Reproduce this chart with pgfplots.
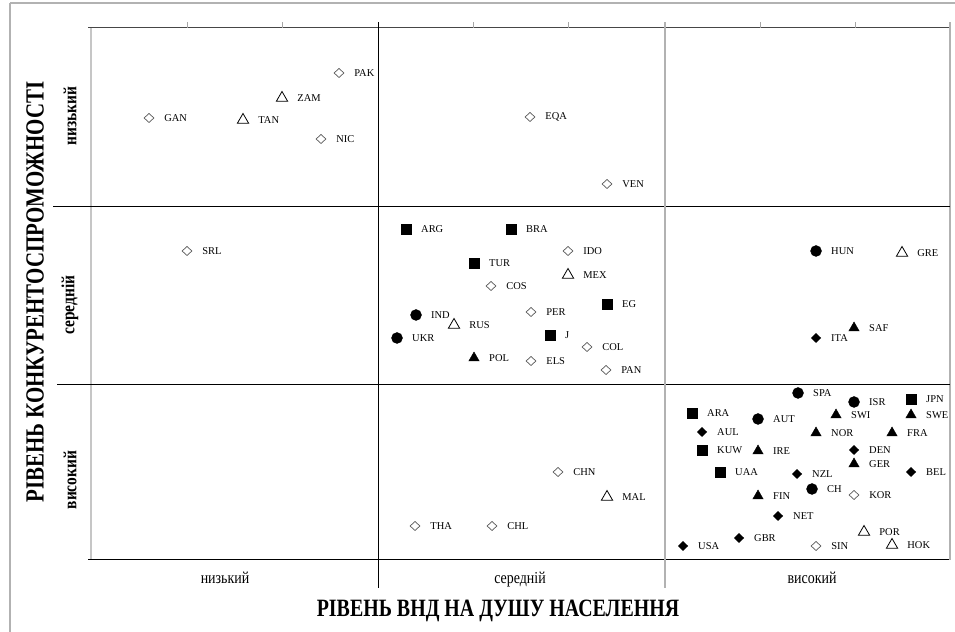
\documentclass[border=0pt]{standalone}
\usepackage{graphicx}
\usepackage{fontspec}
\setmainfont{Liberation Serif}
\usepackage{pgfplots}
\pgfplotsset{compat=1.18}
\begin{document}
\begin{tikzpicture}[x=1bp,y=1bp]
\path[use as bounding box] (0,0) rectangle (955,632);
% outer frame
\draw[gray!60, line width=2bp] (10,0) -- (10,629);
\draw[gray!60, line width=1.2bp] (10,629) -- (955,629);
\begin{axis}[
  at={(91bp,72bp)}, anchor=south west,
  scale only axis, width=859bp, height=532bp,
  xmin=91, xmax=950, ymin=72, ymax=604,
  hide axis, clip=false,
  nodes near coords, point meta=explicit symbolic,
  every node near coord/.append style={anchor=west, xshift=15bp, inner sep=0pt,
    font=\fontsize{10.5}{12}\selectfont, text=black},
]
% open diamonds
\addplot[only marks, mark=diamond, mark size=4.5bp,
  mark options={xscale=1.45, draw=gray!70!black, fill=white, line width=0.7bp}]
  table[meta=label, row sep=\\] {
x y label \\
339 559 PAK \\
149 514 GAN \\
321 493 NIC \\
530 515 EQA \\
607 448 VEN \\
187 381 SRL \\
568 381 IDO \\
491 346 COS \\
531 320 PER \\
587 285 COL \\
531 271 ELS \\
606 262 PAN \\
558 160 CHN \\
415 106 THA \\
492 106 CHL \\
854 137 KOR \\
816 86 SIN \\
};
% open triangles
\addplot[only marks, mark=triangle, mark size=6.5bp,
  mark options={draw=black, fill=white, line width=0.8bp}]
  table[meta=label, row sep=\\] {
x y label \\
282 534 ZAM \\
243 512 TAN \\
568 357 MEX \\
454 307 RUS \\
902 379 GRE \\
607 135 MAL \\
864 100 POR \\
892 87 HOK \\
};
% filled squares
\addplot[only marks, mark=square*, mark size=5bp,
  mark options={draw=black, fill=black}]
  table[meta=label, row sep=\\] {
x y label \\
406 403 ARG \\
511 403 BRA \\
474 369 TUR \\
607 328 EG \\
550 297 J \\
911 233 JPN \\
692 219 ARA \\
702 182 KUW \\
720 160 UAA \\
};
% filled circles
\addplot[only marks, mark=*, mark size=5.5bp,
  mark options={draw=black, fill=black}]
  table[meta=label, row sep=\\] {
x y label \\
416 317 IND \\
397 294 UKR \\
816 381 HUN \\
798 239 SPA \\
854 230 ISR \\
758 213 AUT \\
812 143 CH \\
};
% filled triangles
\addplot[only marks, mark=triangle*, mark size=6bp,
  mark options={draw=black, fill=black}]
  table[meta=label, row sep=\\] {
x y label \\
474 274 POL \\
854 304 SAF \\
836 217 SWI \\
911 217 SWE \\
816 199 NOR \\
892 199 FRA \\
758 181 IRE \\
854 168 GER \\
758 136 FIN \\
};
% filled diamonds
\addplot[only marks, mark=diamond*, mark size=4.5bp,
  mark options={xscale=1.4, draw=black, fill=black}]
  table[meta=label, row sep=\\] {
x y label \\
816 294 ITA \\
702 200 AUL \\
854 182 DEN \\
797 158 NZL \\
911 160 BEL \\
778 116 NET \\
739 94 GBR \\
683 86 USA \\
};
\end{axis}
% plot frame
\draw[gray!55!black, line width=1bp] (88,604) -- (950,604);
\draw[gray!45, line width=1.5bp] (91,72) -- (91,604);
\draw[black, line width=1bp] (88,72) -- (950,72);
\draw[gray!60, line width=1.5bp] (950,72) -- (950,610);
% dividers
\draw[black, line width=0.8bp] (53,426) -- (950,426);
\draw[black, line width=0.8bp] (57,248) -- (950,248);
\draw[black, line width=0.8bp] (378,44) -- (378,610);
\draw[gray!60, line width=1.5bp] (665,44) -- (665,610);
% small top ticks
\foreach \t in {187,282,473,568,760,855} \draw[gray!70, line width=0.6bp] (\t,604) -- (\t,610);
% x category labels
\node[anchor=base, font=\fontsize{14}{16}\selectfont] at (225,48) {\scalebox{1}[1.2]{низький}};
\node[anchor=base, font=\fontsize{14}{16}\selectfont] at (520,48) {\scalebox{1}[1.2]{середній}};
\node[anchor=base, font=\fontsize{14}{16}\selectfont] at (812,48) {\scalebox{1}[1.2]{високий}};
% x title
\node[font=\bfseries\fontsize{20}{24}\selectfont] at (498,21) {\scalebox{1}[1.25]{РІВЕНЬ ВНД НА ДУШУ НАСЕЛЕННЯ}};
% y title
\node[rotate=90, font=\bfseries\fontsize{21}{24}\selectfont] at (35,340) {\scalebox{1}[1.25]{РІВЕНЬ КОНКУРЕНТОСПРОМОЖНОСТІ}};
% y category labels
\node[rotate=90, font=\bfseries\fontsize{15.5}{18}\selectfont] at (70,516) {\scalebox{1}[1.2]{низький}};
\node[rotate=90, font=\bfseries\fontsize{15.5}{18}\selectfont] at (70,327) {\scalebox{1}[1.2]{середній}};
\node[rotate=90, font=\bfseries\fontsize{15.5}{18}\selectfont] at (70,152) {\scalebox{1}[1.2]{високий}};
\end{tikzpicture}
\end{document}
